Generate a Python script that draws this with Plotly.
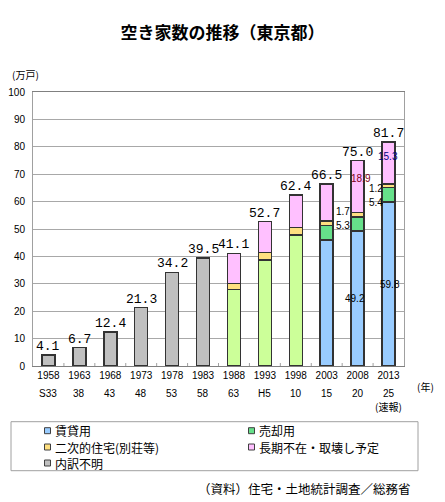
import plotly.graph_objects as go

# ---- data ----
years = ["1958", "1963", "1968", "1973", "1978", "1983", "1988", "1993", "1998", "2003", "2008", "2013"]
eras = ["S33", "38", "43", "48", "53", "58", "63", "H5", "10", "15", "20", "25"]

rental = [None] * 9 + [45.9, 49.2, 59.8]                      # 賃貸用
rental_sale_old = [None] * 6 + [28.0, 38.7, 47.9] + [None] * 3  # 賃貸用・売却用（旧区分）
sale = [None] * 9 + [5.3, 5.1, 5.4]                           # 売却用
secondary = [None] * 6 + [2.2, 2.8, 2.6, 1.7, 1.8, 1.2]       # 二次的住宅(別荘等)
longterm = [None] * 6 + [10.9, 11.2, 11.9, 13.6, 18.9, 15.3]  # 長期不在・取壊し予定
unknown = [4.1, 6.7, 12.4, 21.3, 34.2, 39.5] + [None] * 6     # 内訳不明

series_names = ["賃貸用", "売却用", "二次的住宅(別荘等)", "長期不在・取壊し予定", "内訳不明"]
colors = {
    "賃貸用": "#99ccff",
    "旧": "#ccff99",
    "売却用": "#66e08a",
    "二次的住宅(別荘等)": "#ffe080",
    "長期不在・取壊し予定": "#ffc0ff",
    "内訳不明": "#c0c0c0",
}

OFF = 8  # page body margin
W, H = 445 - OFF, 502 - OFF
L, R, T, B = 33 - OFF, 41, 92 - OFF, 136
PW, PH = W - L - R, H - T - B


def px(xp):  # page pixel x -> paper
    return (xp - OFF - L) / PW


def py(yp):  # page pixel y -> paper
    return (H - B - (yp - OFF)) / PH


JP = "Noto Sans CJK JP"
line = dict(color="#333333", width=1.5)
xi = list(range(len(years)))

fig = go.Figure()
stack = [
    ("賃貸用", rental, colors["賃貸用"]),
    ("賃貸用・売却用", rental_sale_old, colors["旧"]),
    ("売却用", sale, colors["売却用"]),
    ("二次的住宅(別荘等)", secondary, colors["二次的住宅(別荘等)"]),
    ("長期不在・取壊し予定", longterm, colors["長期不在・取壊し予定"]),
    ("内訳不明", unknown, colors["内訳不明"]),
]
for name, vals, col in stack:
    fig.add_trace(go.Bar(x=xi, y=vals, name=name, marker=dict(color=col, line=line),
                         showlegend=False))


def v(a, i):
    return a[i] if a[i] is not None else 0.0


totals = [round(sum(v(a, i) for _, a, _ in stack), 1) for i in xi]

annotations = []
for i in xi:
    annotations.append(dict(x=i, y=totals[i], xref="x", yref="y", text=f"{totals[i]:.1f}",
                            showarrow=False, yanchor="bottom", yshift=-1,
                            font=dict(family="Liberation Mono", size=13, color="#000000")))


def cum(i, upto):
    return sum(v(a, i) for a in upto)


i03, i08, i13 = 9, 10, 11
inner = [
    (i03, cum(i03, [rental, sale]), f"{sale[i03]:.1f}", 16, "#000000"),
    (i03, cum(i03, [rental, sale, secondary]) + 3.4, f"{secondary[i03]:.1f}", 16, "#000000"),
    (i08, rental[i08] / 2, f"{rental[i08]:.1f}", -3, "#000000"),
    (i08, cum(i08, [rental, sale, secondary]) + longterm[i08] * 0.65, f"{longterm[i08]:.1f}", 3, "#800020"),
    (i13, rental[i13] / 2, f"{rental[i13]:.1f}", 1, "#000000"),
    (i13, rental[i13], f"{sale[i13]:.1f}", -13, "#000000"),
    (i13, cum(i13, [rental, sale, secondary]) - 1.5, f"{secondary[i13]:.1f}", -13, "#000000"),
    (i13, cum(i13, [rental, sale, secondary]) + longterm[i13] * 0.65, f"{longterm[i13]:.1f}", -1, "#000080"),
]
for x, y, t, xs, c in inner:
    annotations.append(dict(x=x, y=y, xref="x", yref="y", text=t, showarrow=False,
                            xshift=xs, font=dict(family="Liberation Sans", size=10, color=c)))

for i, e in zip(xi, eras):
    annotations.append(dict(x=i, y=0, xref="x", yref="paper", text=e, showarrow=False,
                            yanchor="middle", yshift=-27, font=dict(family="Liberation Sans", size=10, color="#000")))
annotations.append(dict(x=xi[-1], y=0, xref="x", yref="paper", text="(速報)", showarrow=False,
                        yanchor="middle", yshift=-40, font=dict(family=JP, size=10, color="#000")))
annotations.append(dict(x=px(425), y=py(386), xref="paper", yref="paper", text="(年)", showarrow=False,
                        xanchor="center", yanchor="middle", font=dict(family=JP, size=10, color="#000")))
annotations.append(dict(x=px(25), y=py(74), xref="paper", yref="paper", text="(万戸)", showarrow=False,
                        xanchor="center", yanchor="middle", font=dict(family=JP, size=10, color="#000")))

# legend (custom)
shapes = [dict(type="rect", xref="paper", yref="paper", x0=px(11), x1=px(418), y0=py(470.7), y1=py(421.7),
               line=dict(color="#a0a0a0", width=1), fillcolor="rgba(0,0,0,0)")]
leg_pos = [(47.5, 430.7), (251.5, 430.7), (47.5, 447), (251.5, 447), (47.5, 463)]
for (lx, ly), n in zip(leg_pos, series_names):
    shapes.append(dict(type="rect", xref="paper", yref="paper", x0=px(lx - 3), x1=px(lx + 3),
                       y0=py(ly + 3), y1=py(ly - 3), line=dict(color="#404040", width=1), fillcolor=colors[n]))
    annotations.append(dict(x=px(lx + 5), y=py(ly), xref="paper", yref="paper", text=n, showarrow=False,
                            xanchor="left", yanchor="middle", font=dict(family=JP, size=12, color="#000")))

annotations.append(dict(x=px(413), y=py(488.5), xref="paper", yref="paper", text="（資料）住宅・土地統計調査／総務省",
                        showarrow=False, xanchor="right", yanchor="middle",
                        font=dict(family=JP, size=12.5, color="#000")))

# small boundary ticks along the bottom axis
for k in range(1, len(years)):
    shapes.append(dict(type="line", xref="x", yref="paper", x0=k - 0.5, x1=k - 0.5, y0=0, y1=py(363),
                       line=dict(color="#a0a0a0", width=1)))

fig.update_layout(
    width=W, height=H,
    margin=dict(l=L, r=R, t=T, b=B),
    barmode="stack", bargap=0.58,
    paper_bgcolor="white", plot_bgcolor="white",
    title=dict(text="空き家数の推移（東京都）", x=px(222.5), xref="paper", xanchor="center",
               y=1 - (33 - OFF) / H, yanchor="middle",
               font=dict(family=JP, size=17, color="#000", weight=600)),
    annotations=annotations, shapes=shapes,
    showlegend=False,
)
fig.update_xaxes(range=[-0.5, len(years) - 0.5], tickvals=xi, ticktext=years, automargin=False,
                 tickfont=dict(family="Liberation Sans", size=10, color="#000"),
                 showline=True, linecolor="#808080", linewidth=1, mirror=True,
                 ticks="", showgrid=False, zeroline=False)
fig.update_yaxes(range=[0, 100], dtick=10, automargin=False, ticklabelstandoff=5,
                 tickfont=dict(family="Liberation Sans", size=10, color="#000"),
                 showgrid=True, gridcolor="#a8a8a8", gridwidth=1, showline=True, linecolor="#a0a0a0",
                 mirror=True, ticks="", zeroline=False)

fig.write_html("out.html")
